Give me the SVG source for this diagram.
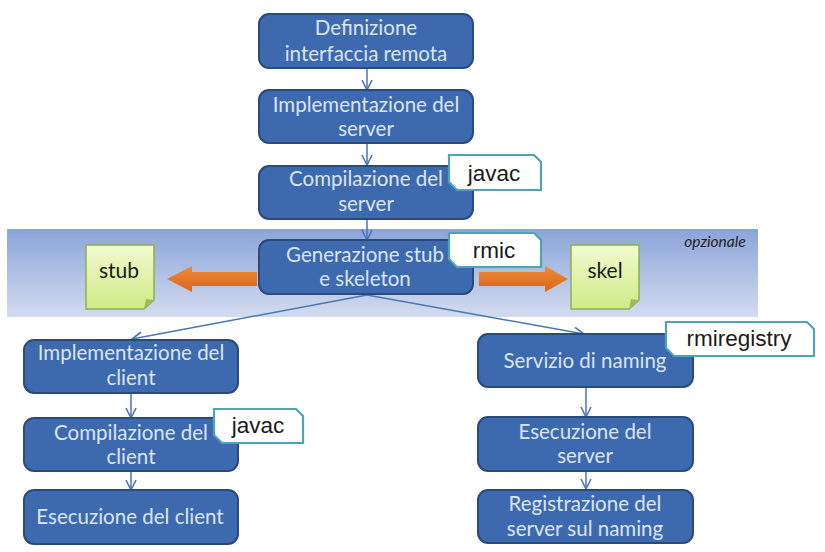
<svg xmlns="http://www.w3.org/2000/svg" width="825" height="552" viewBox="0 0 825 552">
<defs>
<linearGradient id="band" x1="0" y1="0" x2="0" y2="1"><stop offset="0" stop-color="#8ba4d8"/><stop offset="1" stop-color="#d3dcef"/></linearGradient>
<linearGradient id="note" x1="0" y1="0" x2="0" y2="1"><stop offset="0" stop-color="#f3f9cf"/><stop offset="1" stop-color="#cdec85"/></linearGradient>
<linearGradient id="org" x1="0" y1="0" x2="0" y2="1"><stop offset="0" stop-color="#ee8a3a"/><stop offset="1" stop-color="#d9651a"/></linearGradient>
<marker id="arr" viewBox="0 0 12 12" refX="11" refY="6" markerWidth="12" markerHeight="12" markerUnits="userSpaceOnUse" orient="auto"><path d="M1 1L11 6L1 11" fill="none" stroke="#4a76b4" stroke-width="1.6"/></marker>
</defs>
<style>
.n{fill:#3d69ae;stroke:#2a4a7c;stroke-width:2}
.t{font-family:"Lato","Open Sans",sans-serif;font-size:20.5px;fill:#dbe5f3;text-anchor:middle}
.c{fill:none;stroke:#4a76b4;stroke-width:1.5;marker-end:url(#arr)}
.tag{fill:#fff;stroke:#4fa3b8;stroke-width:2.2}
.l{font-family:"Liberation Sans",Arial,sans-serif;font-size:22.5px;fill:#1a1a1a;text-anchor:middle}
.nt{fill:url(#note);stroke:#8cb050;stroke-width:1.5}
.fold{fill:#9fbb5f}
.s{font-family:"Lato","Open Sans",sans-serif;font-size:21px;fill:#1a1a1a;text-anchor:middle}
.o{fill:url(#org)}
</style>
<rect x="7" y="229" width="751" height="88" fill="url(#band)"/>
<text x="715" y="247" font-family="Lato,'Open Sans',sans-serif" font-size="15.5px" font-style="italic" fill="#222" text-anchor="middle">opzionale</text>
<g id="connectors">
<line class="c" x1="367" y1="68" x2="367" y2="90"/>
<line class="c" x1="367" y1="143" x2="367" y2="165"/>
<line class="c" x1="367" y1="219" x2="367" y2="240"/>
<line class="c" x1="367" y1="295" x2="132" y2="339"/>
<line class="c" x1="367" y1="295" x2="584" y2="334"/>
<line class="c" x1="131" y1="393" x2="131" y2="418"/>
<line class="c" x1="131" y1="471" x2="131" y2="490"/>
<line class="c" x1="586" y1="387" x2="586" y2="417"/>
<line class="c" x1="586" y1="471" x2="586" y2="489"/>
</g>
<g id="n1"><rect class="n" x="259" y="14" width="214" height="54" rx="10"/><text class="t" x="366" y="35">Definizione</text><text class="t" x="366" y="61">interfaccia remota</text></g>
<g id="n2"><rect class="n" x="259" y="90" width="214" height="53" rx="10"/><text class="t" x="366" y="112">Implementazione del</text><text class="t" x="366" y="136">server</text></g>
<g id="n3"><rect class="n" x="259" y="166" width="214" height="53" rx="10"/><text class="t" x="366" y="186">Compilazione del</text><text class="t" x="366" y="211">server</text></g>
<g id="n4"><rect class="n" x="259" y="240" width="214" height="54" rx="10"/><text class="t" x="365" y="262">Generazione stub</text><text class="t" x="365" y="286">e skeleton</text></g>
<g id="n5"><rect class="n" x="24" y="340" width="214" height="53" rx="10"/><text class="t" x="131" y="360">Implementazione del</text><text class="t" x="131" y="385">client</text></g>
<g id="n6"><rect class="n" x="24" y="418" width="214" height="53" rx="10"/><text class="t" x="131" y="440">Compilazione del</text><text class="t" x="131" y="464">client</text></g>
<g id="n7"><rect class="n" x="24" y="490" width="214" height="54" rx="10"/><text class="t" x="130" y="524">Esecuzione del client</text></g>
<g id="n8"><rect class="n" x="478" y="334" width="215" height="53" rx="10"/><text class="t" x="585" y="368">Servizio di naming</text></g>
<g id="n9"><rect class="n" x="478" y="417" width="215" height="54" rx="10"/><text class="t" x="585" y="439">Esecuzione del</text><text class="t" x="585" y="463">server</text></g>
<g id="n10"><rect class="n" x="478" y="490" width="215" height="53" rx="10"/><text class="t" x="585" y="511">Registrazione del</text><text class="t" x="585" y="536">server sul naming</text></g>
<g id="a1"><path class="o" d="M257 272V286H192V292L167 279L192 266V272Z"/></g>
<g id="a2"><path class="o" d="M479 272H545V266L568 279L545 292V286H479Z"/></g>
<g id="stub"><path class="nt" d="M86 245H154V300L144 309H86Z"/><path class="fold" d="M154 300L144 309L146 299Z"/><text class="s" x="119" y="278">stub</text></g>
<g id="skel"><path class="nt" d="M571 245H639V300L629 309H571Z"/><path class="fold" d="M639 300L629 309L631 299Z"/><text class="s" x="605" y="278">skel</text></g>
<g id="t1"><path class="tag" d="M449 155H534L541 162V190H457L449 182Z"/><text class="l" x="494" y="181">javac</text></g>
<g id="t2"><path class="tag" d="M449 233H534L541 240V267H457L449 259Z"/><text class="l" x="494" y="258">rmic</text></g>
<g id="t3"><path class="tag" d="M666 322H807L814 329V356H674L666 348Z"/><text class="l" x="739" y="346">rmiregistry</text></g>
<g id="t4"><path class="tag" d="M214 409H296L303 416V443H222L214 435Z"/><text class="l" x="258" y="433">javac</text></g>
</svg>
